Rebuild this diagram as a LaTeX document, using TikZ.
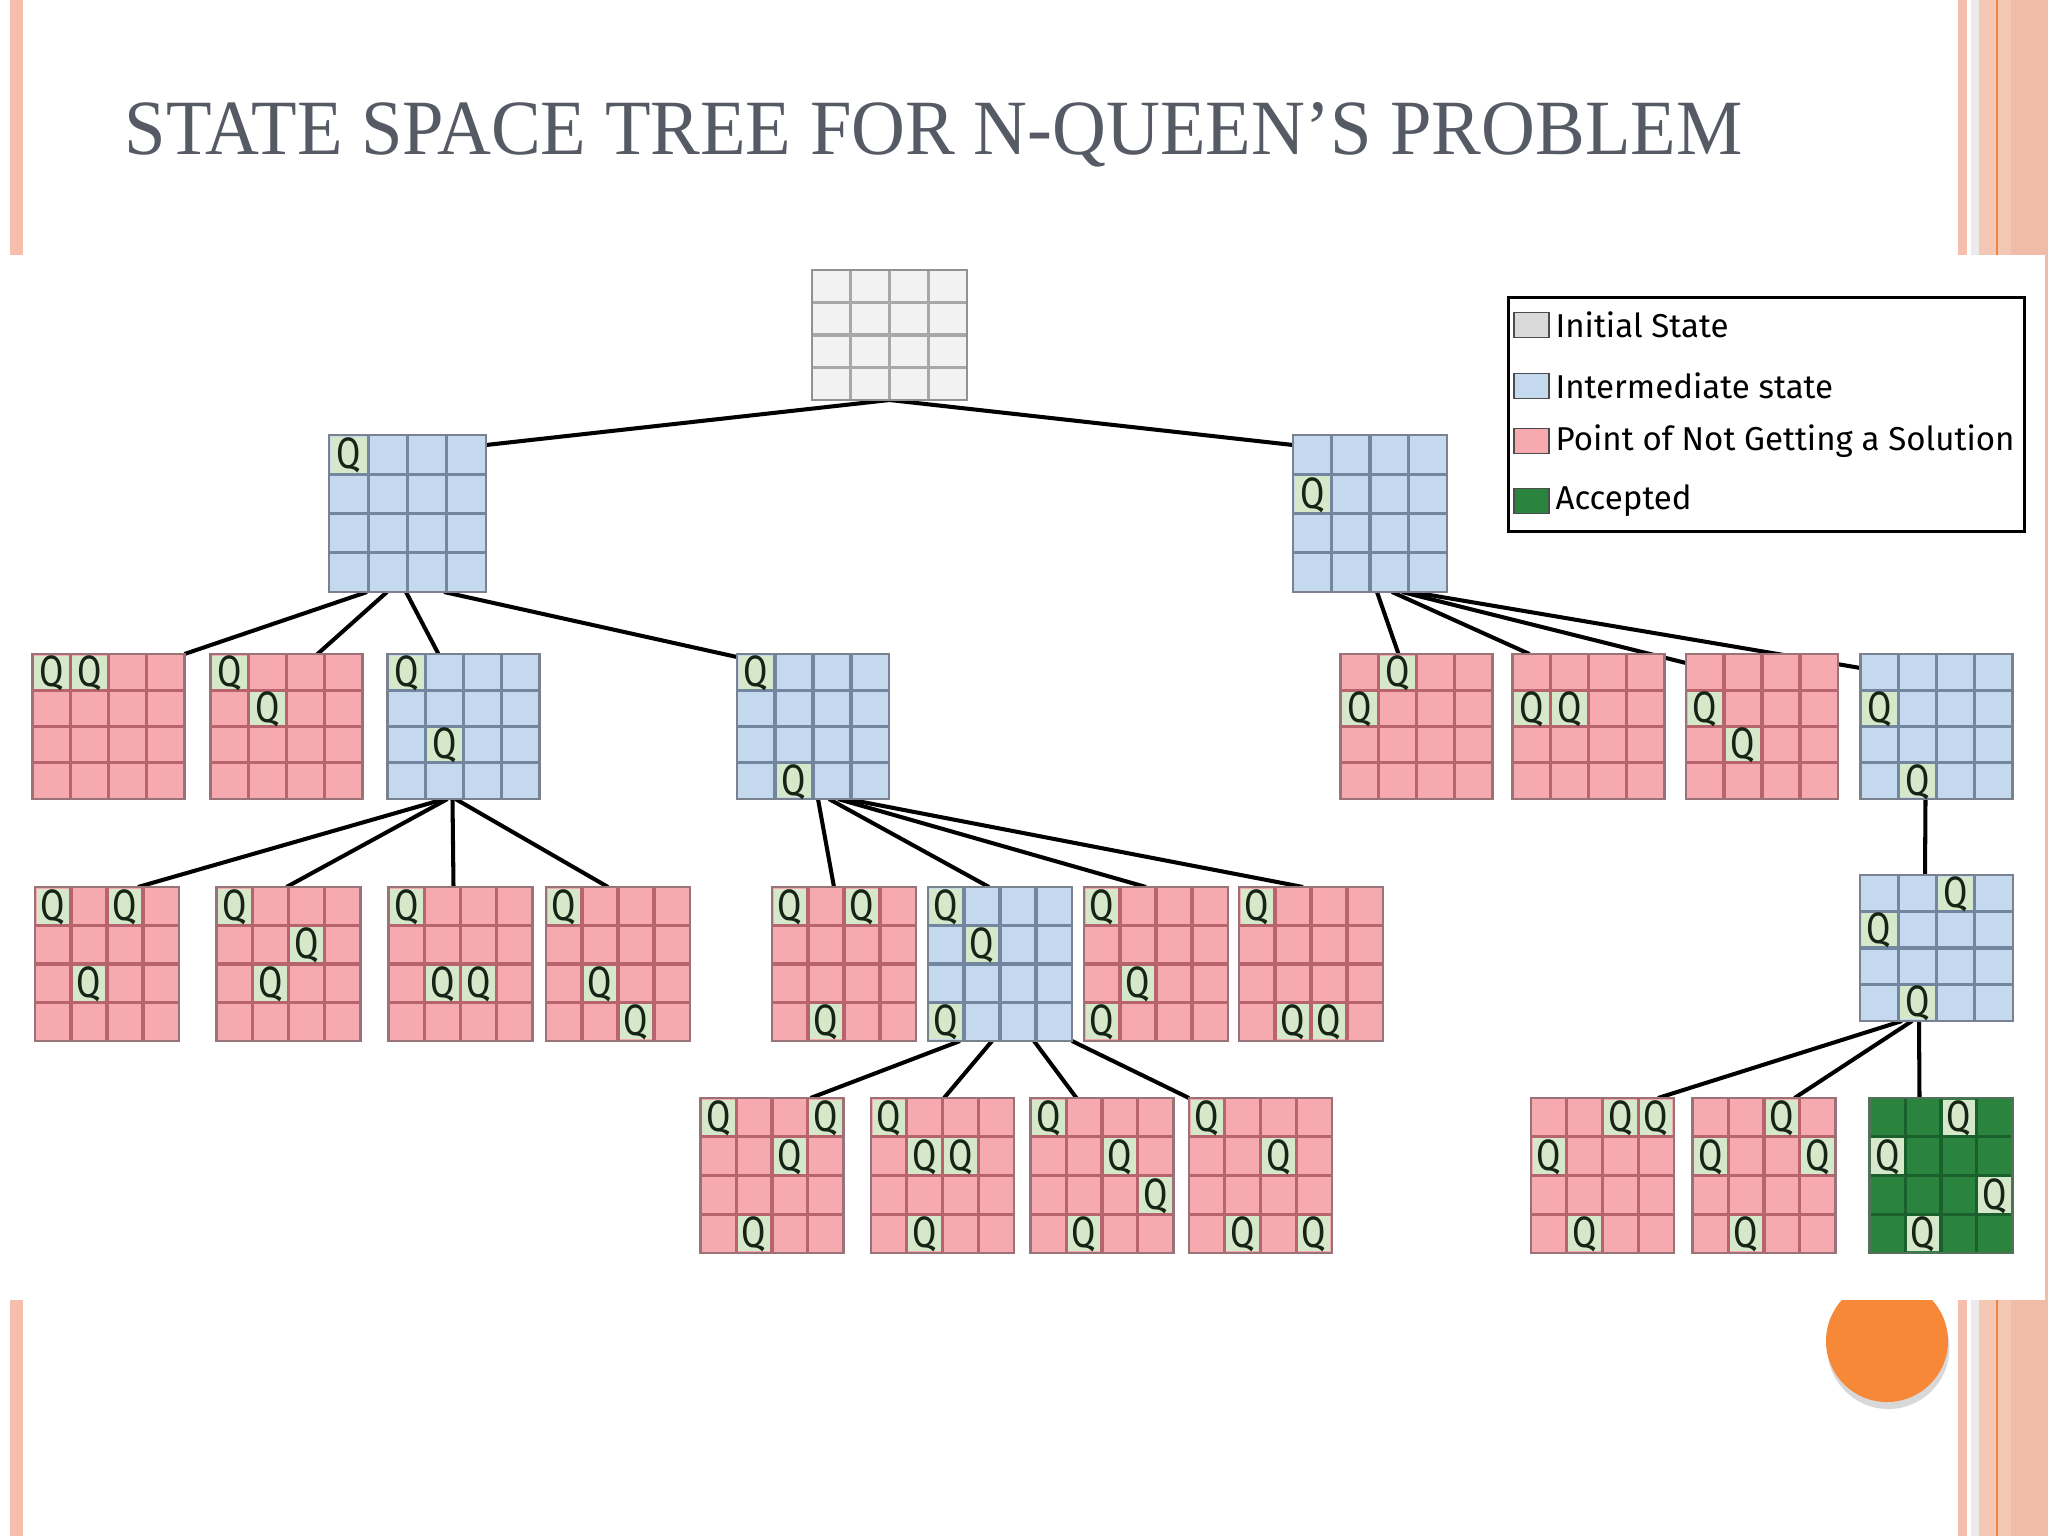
\documentclass[tikz,border=0pt]{standalone}
\usepackage{graphicx,xcolor,fontspec}
\setmainfont{Liberation Serif}
\newfontfamily\legendfont{Fira Sans}
\usetikzlibrary{calc,positioning,shadows}
\pgfdeclarelayer{deco}
\pgfdeclarelayer{wires}
\pgfsetlayers{deco,wires,main}

\definecolor{pinkfill}{RGB}{246,170,176}
\definecolor{pinkgrid}{RGB}{184,100,110}
\definecolor{bluefill}{RGB}{196,216,238}
\definecolor{bluegrid}{RGB}{114,134,160}
\definecolor{grayfill}{RGB}{242,242,242}
\definecolor{graygrid}{RGB}{168,168,168}
\definecolor{greenfill}{RGB}{42,132,62}
\definecolor{greengrid}{RGB}{26,96,44}
\definecolor{qgreen}{RGB}{214,232,202}
\definecolor{qtext}{RGB}{22,36,22}
\definecolor{titlegray}{RGB}{86,90,101}
\definecolor{stripe}{RGB}{246,190,172}
\definecolor{band}{RGB}{244,198,180}
\definecolor{banddark}{RGB}{240,188,168}
\definecolor{orangeline}{RGB}{240,130,66}
\definecolor{orangedot}{RGB}{246,136,56}

% board: name, x, y, width, height, kind
\newcommand{\qboard}[6]{%
  \node[board, fill=#6fill, minimum width=#4*0.01cm, minimum height=#5*0.01cm] (#1) at (#2,#3) {};
  \foreach \k in {1,2,3}{
    \draw[gridline, draw=#6grid] ($(#1.north west)+(\k*#4/4,0)$) -- ++(0,#5);
    \draw[gridline, draw=#6grid] ($(#1.north west)+(0,\k*#5/4)$) -- ++(#4,0);
  }
  \draw[draw=#6grid!45!gray, line width=0.6pt] (#1.north west) rectangle (#1.south east);
}
% queens: name, width, height, row/col list
\newcommand{\queens}[4]{%
  \foreach \r/\c in {#4}{
    \fill[qcell] ($(#1.north west)+(\c*#2/4+1.6,\r*#3/4+1.6)$) rectangle ++(#2/4-3.2,#3/4-3.2);
    \node[qmark] at ($(#1.north west)+({(\c+0.5)*#2/4},{(\r+0.5)*#3/4+1})$) {\scalebox{0.8}[1]{Q}};
  }
}

\begin{document}
\begin{tikzpicture}[x=0.01cm,y=-0.01cm,
  board/.style={rectangle,inner sep=0pt,outer sep=0pt},
  gridline/.style={line width=0.9pt},
  qcell/.style={fill=qgreen},
  qmark/.style={font=\legendfont\fontsize{12.5}{12.5}\selectfont,text=qtext,inner sep=0pt},
  link/.style={line width=1.15pt,black},
  swatch/.style={draw=black!70,line width=0.5pt,minimum width=0.35cm,minimum height=0.25cm,inner sep=0pt},
  legtext/.style={font=\legendfont\fontsize{9.4}{10}\selectfont,inner sep=0pt}]
\useasboundingbox (0,0) rectangle (2048,1536);

\begin{pgfonlayer}{deco}
\fill[white] (0,0) rectangle (2048,1536);
\fill[stripe] (10,0) rectangle (23,1536);
\fill[stripe] (1958,0) rectangle (1967,1536);
\fill[black!8] (1971,0) rectangle (1979,1536);
\fill[band] (1979,0) rectangle (2048,1536);
\fill[banddark] (2011,0) rectangle (2048,1536);
\fill[orangeline] (1996,0) rectangle (1998,1536);
\fill[orangedot,drop shadow={opacity=0.3,shadow xshift=0.4pt,shadow yshift=-2pt}] (1887,1341) circle (61);
\fill[white] (0,255) rectangle (2045,1300);
\end{pgfonlayer}

\node[anchor=base west,inner sep=0pt,text=titlegray] (title) at (124,154)
  {\resizebox{16.17cm}{0.52cm}{STATE SPACE TREE FOR N-QUEEN’S PROBLEM}};

% root and first level
\qboard{root}{889.5}{335}{155}{130}{gray}
\qboard{La}{407.5}{513.5}{157}{157}{blue} \queens{La}{157}{157}{0/0}
\qboard{Lb}{1370}{513.5}{154}{157}{blue} \queens{Lb}{154}{157}{1/0}

% second level
\qboard{P1}{108.5}{726.5}{152}{145}{pink} \queens{P1}{152}{145}{0/0,0/1}
\qboard{P2}{286.5}{726.5}{152}{145}{pink} \queens{P2}{152}{145}{0/0,1/1}
\qboard{B1}{463.5}{726.5}{152}{145}{blue} \queens{B1}{152}{145}{0/0,2/1}
\qboard{B2}{813}{726.5}{152}{145}{blue} \queens{B2}{152}{145}{0/0,3/1}
\qboard{P3}{1416.5}{726.5}{152}{145}{pink} \queens{P3}{152}{145}{0/1,1/0}
\qboard{P4}{1588.5}{726.5}{152}{145}{pink} \queens{P4}{152}{145}{1/0,1/1}
\qboard{P5}{1762}{726.5}{152}{145}{pink} \queens{P5}{152}{145}{1/0,2/1}
\qboard{B3}{1936.5}{726.5}{152}{145}{blue} \queens{B3}{152}{145}{1/0,3/1}

% third level
\qboard{C1}{107}{964}{144}{154}{pink} \queens{C1}{144}{154}{0/0,0/2,2/1}
\qboard{C2}{288.5}{964}{144}{154}{pink} \queens{C2}{144}{154}{0/0,1/2,2/1}
\qboard{C3}{460.5}{964}{144}{154}{pink} \queens{C3}{144}{154}{0/0,2/1,2/2}
\qboard{C4}{618}{964}{144}{154}{pink} \queens{C4}{144}{154}{0/0,2/1,3/2}
\qboard{C5}{844}{964}{144}{154}{pink} \queens{C5}{144}{154}{0/0,0/2,3/1}
\qboard{C6}{1000}{964}{144}{154}{blue} \queens{C6}{144}{154}{0/0,1/1,3/0}
\qboard{C7}{1156}{964}{144}{154}{pink} \queens{C7}{144}{154}{0/0,2/1,3/0}
\qboard{C8}{1311}{964}{144}{154}{pink} \queens{C8}{144}{154}{0/0,3/1,3/2}
\qboard{B4}{1936.5}{948}{153}{146}{blue} \queens{B4}{153}{146}{0/2,1/0,3/1}

% fourth level
\qboard{D1}{772}{1175.5}{143}{155}{pink} \queens{D1}{143}{155}{0/0,0/3,1/2,3/1}
\qboard{D2}{942.5}{1175.5}{143}{155}{pink} \queens{D2}{143}{155}{0/0,1/1,1/2,3/1}
\qboard{D3}{1102}{1175.5}{143}{155}{pink} \queens{D3}{143}{155}{0/0,1/2,2/3,3/1}
\qboard{D4}{1260.5}{1175.5}{143}{155}{pink} \queens{D4}{143}{155}{0/0,1/2,3/1,3/3}
\qboard{E1}{1602.5}{1175.5}{143}{155}{pink} \queens{E1}{143}{155}{0/2,0/3,1/0,3/1}
\qboard{E2}{1764}{1175.5}{143}{155}{pink} \queens{E2}{143}{155}{0/2,1/0,1/3,3/1}
\qboard{E3}{1941}{1175.5}{143}{155}{green} \queens{E3}{143}{155}{0/2,1/0,2/3,3/1}

\begin{pgfonlayer}{wires}
\draw[link] (root.south) -- ($(La.north east)+(0,10)$);
\draw[link] (root.south) -- ($(Lb.north west)+(0,10)$);
\draw[link] ($(La.south west)+(38,0)$) -- (P1.north east);
\draw[link] ($(La.south west)+(58,0)$) -- ($(P2.north west)+(107,0)$);
\draw[link] ($(La.south west)+(77,0)$) -- ($(B1.north west)+(51,0)$);
\draw[link] ($(La.south west)+(115,0)$) -- ($(B2.north west)+(0,3)$);
\draw[link] ($(Lb.south west)+(84,0)$) -- ($(P3.north west)+(58,0)$);
\draw[link] ($(Lb.south west)+(99,0)$) -- ($(P4.north west)+(17,0)$);
\draw[link] ($(Lb.south west)+(109,0)$) -- ($(P5.north west)+(0,9)$);
\draw[link] ($(Lb.south west)+(119,0)$) -- ($(B3.north west)+(0,14)$);
\draw[link] ($(B1.south west)+(57,0)$) -- ($(C1.north west)+(103,0)$);
\draw[link] ($(B1.south west)+(60,0)$) -- ($(C2.north west)+(70,0)$);
\draw[link] ($(B1.south west)+(65,0)$) -- ($(C3.north west)+(65,0)$);
\draw[link] ($(B1.south west)+(68,0)$) -- ($(C4.north west)+(62,0)$);
\draw[link] ($(B2.south west)+(81,0)$) -- ($(C5.north west)+(62,0)$);
\draw[link] ($(B2.south west)+(92,0)$) -- ($(C6.north west)+(61,0)$);
\draw[link] ($(B2.south west)+(101,0)$) -- ($(C7.north west)+(62,0)$);
\draw[link] ($(B2.south west)+(110,0)$) -- ($(C8.north west)+(64,0)$);
\draw[link] ($(C6.south west)+(32,0)$) -- ($(D1.north west)+(110,0)$);
\draw[link] ($(C6.south west)+(64,0)$) -- ($(D2.north west)+(73,0)$);
\draw[link] ($(C6.south west)+(106,0)$) -- ($(D3.north west)+(46,0)$);
\draw[link] (C6.south east) -- (D4.north west);
\draw[link] ($(B3.south west)+(65,0)$) -- ($(B4.north west)+(65,0)$);
\draw[link] ($(B4.south west)+(42,0)$) -- ($(E1.north west)+(127,0)$);
\draw[link] ($(B4.south west)+(52,0)$) -- ($(E2.north west)+(102,0)$);
\draw[link] ($(B4.south west)+(59,0)$) -- ($(E3.north west)+(50,0)$);
\end{pgfonlayer}

% legend
\node[draw,line width=0.8pt,minimum width=5.16cm,minimum height=2.34cm,inner sep=0pt,anchor=north west] (legend) at (1507,296) {};
\node[swatch,fill=grayfill!90!black] (s1) at (1531.5,325) {};
\node[swatch,fill=bluefill] (s2) at (1531.5,386) {};
\node[swatch,fill=pinkfill] (s3) at (1531.5,441) {};
\node[swatch,fill=greenfill] (s4) at (1531.5,501) {};
\node[legtext,right=0.05cm of s1] (t1) {Initial State};
\node[legtext,right=0.05cm of s2] (t2) {Intermediate state};
\node[legtext,right=0.05cm of s3] (t3) {Point of Not Getting a Solution};
\node[legtext,right=0.05cm of s4] (t4) {Accepted};
\end{tikzpicture}
\end{document}
